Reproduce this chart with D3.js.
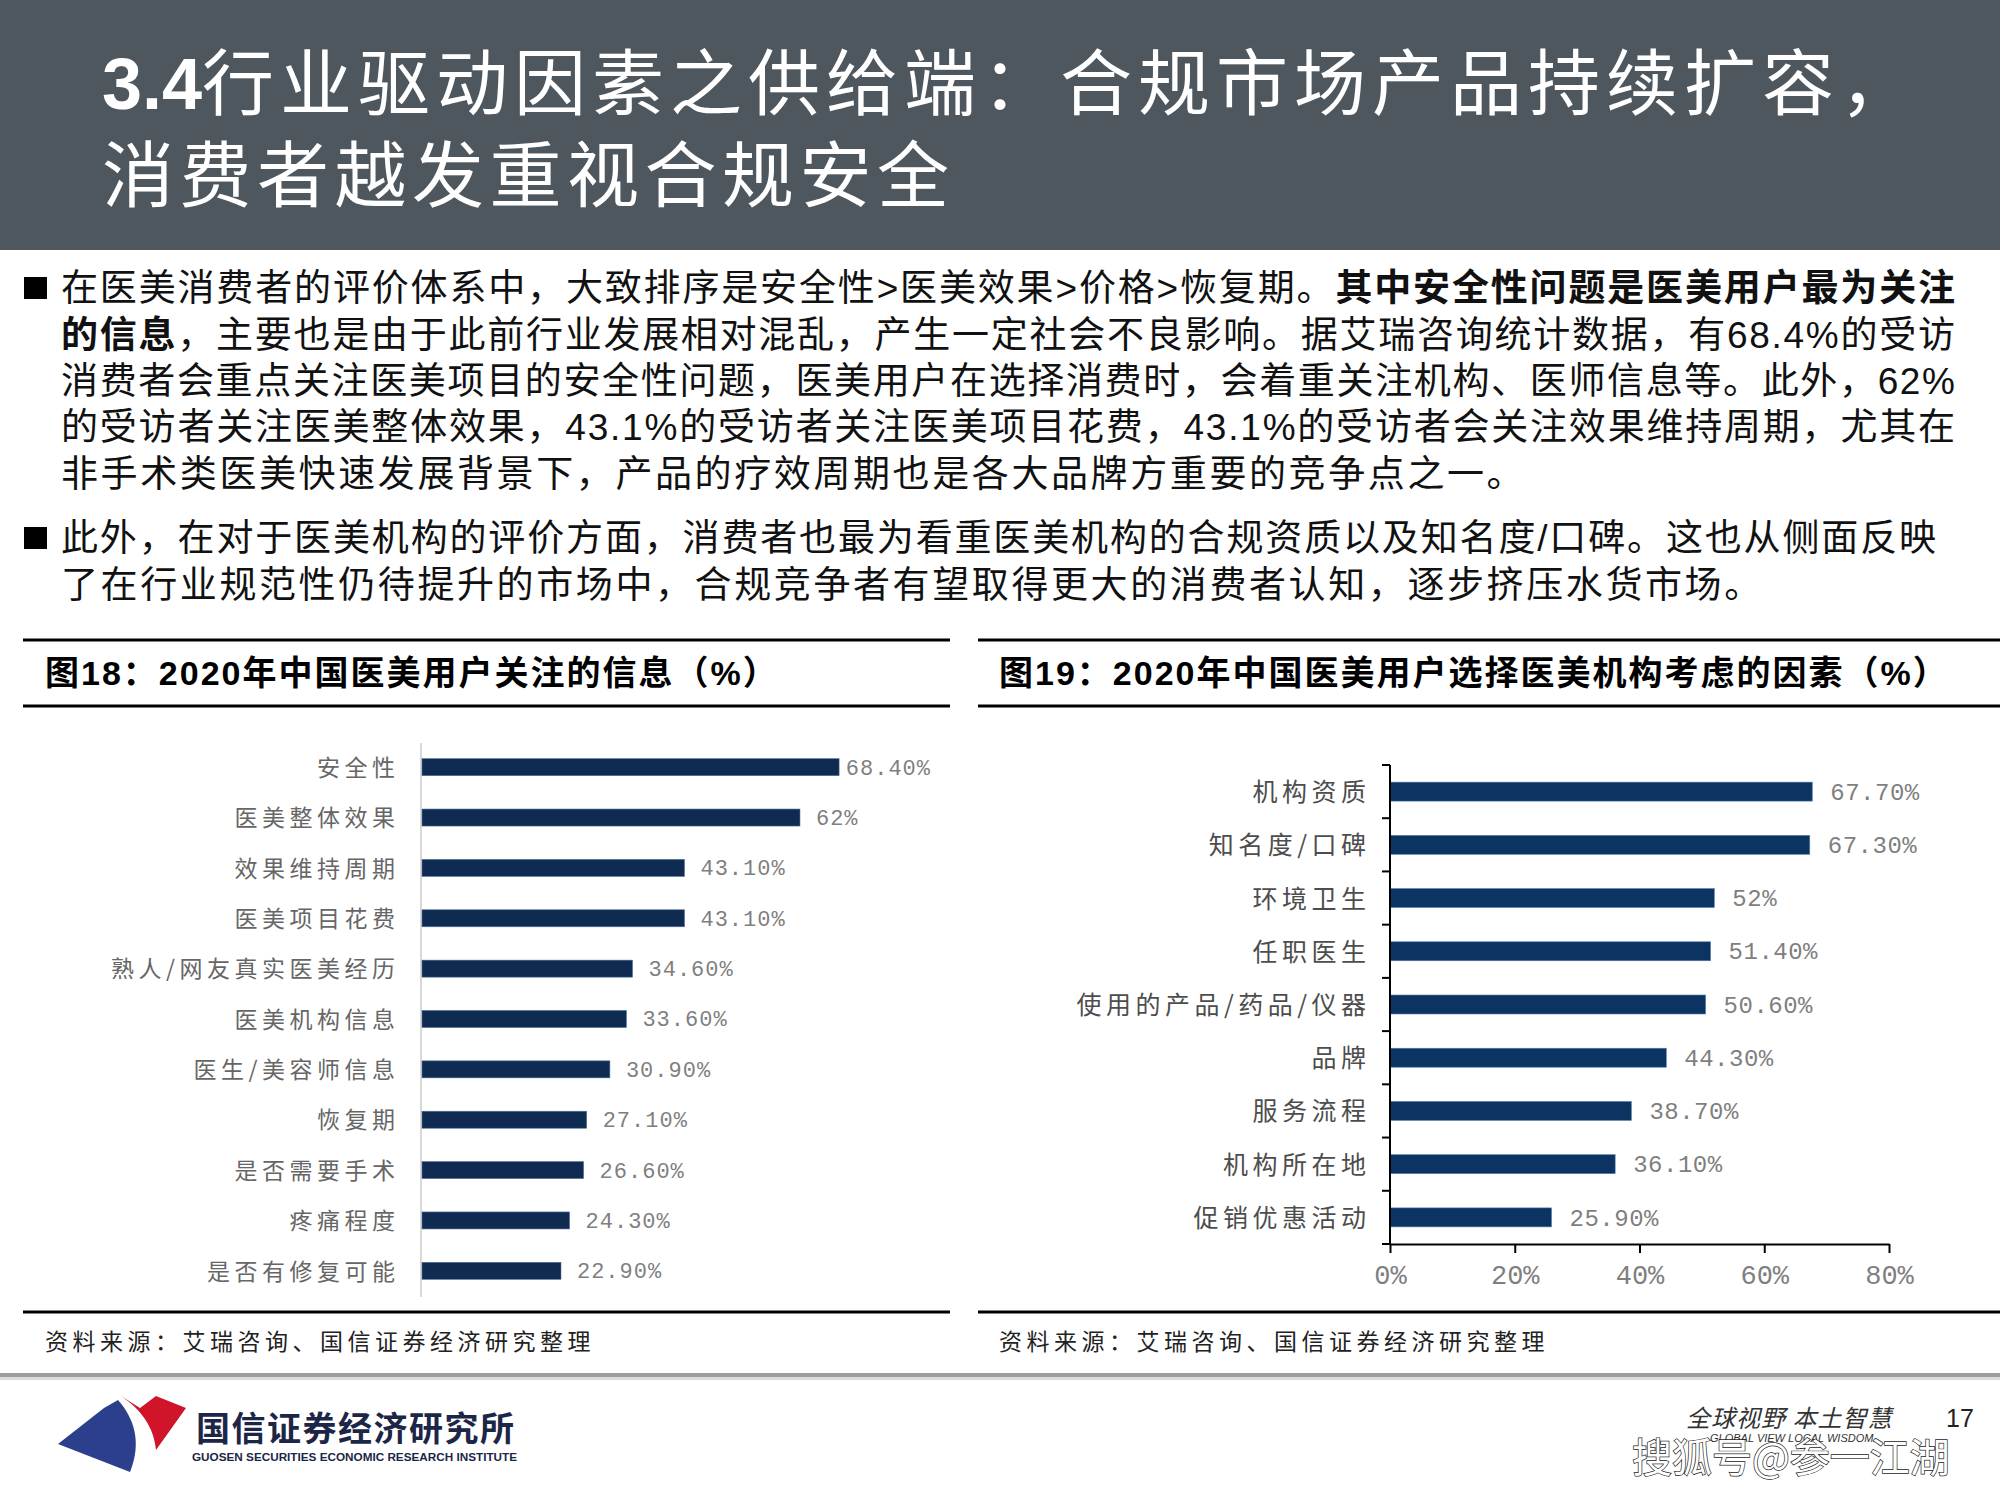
<!DOCTYPE html>
<html>
<head>
<meta charset="utf-8">
<script src="https://cdn.jsdelivr.net/npm/d3@7"></script>
<style>
body { margin: 0; background: #fff; }
svg { display: block; }
</style>
</head>
<body>
<div id="page"></div>
<script>
// 图18 data
var infoCategories = ["安全性", "医美整体效果", "效果维持周期", "医美项目花费", "熟人/网友真实医美经历", "医美机构信息",
  "医生/美容师信息", "恢复期", "是否需要手术", "疼痛程度", "是否有修复可能"];
var infoValues = [68.4, 62, 43.1, 43.1, 34.6, 33.6, 30.9, 27.1, 26.6, 24.3, 22.9];

// 图19 data
var clinicCategories = ["机构资质", "知名度/口碑", "环境卫生", "任职医生", "使用的产品/药品/仪器", "品牌", "服务流程",
  "机构所在地", "促销优惠活动"];
var clinicValues = [67.7, 67.3, 52, 51.4, 50.6, 44.3, 38.7, 36.1, 25.9];
var clinicTicks = [0, 20, 40, 60, 80];

var titleLines = ["行业驱动因素之供给端：合规市场产品持续扩容，", "消费者越发重视合规安全"];
var sourceText = "资料来源：艾瑞咨询、国信证券经济研究整理";

// paragraph lines, [text, bold]
var bodyLines = [
  [["在医美消费者的评价体系中，大致排序是安全性>医美效果>价格>恢复期。", 0], ["其中安全性问题是医美用户最为关注", 1]],
  [["的信息", 1], ["，主要也是由于此前行业发展相对混乱，产生一定社会不良影响。据艾瑞咨询统计数据，有68.4%的受访", 0]],
  [["消费者会重点关注医美项目的安全性问题，医美用户在选择消费时，会着重关注机构、医师信息等。此外，62%", 0]],
  [["的受访者关注医美整体效果，43.1%的受访者关注医美项目花费，43.1%的受访者会关注效果维持周期，尤其在", 0]],
  [["非手术类医美快速发展背景下，产品的疗效周期也是各大品牌方重要的竞争点之一。", 0]],
  [["此外，在对于医美机构的评价方面，消费者也最为看重医美机构的合规资质以及知名度/口碑。这也从侧面反映", 0]],
  [["了在行业规范性仍待提升的市场中，合规竞争者有望取得更大的消费者认知，逐步挤压水货市场。", 0]]
];

var CJK = "'Noto Sans CJK SC', sans-serif";
var MIX = "'Liberation Sans', 'Noto Sans CJK SC', sans-serif";
var MONO = "'Liberation Mono', monospace";

var svg = d3.select("#page").append("svg").attr("width", 2000).attr("height", 1500);

function pct(v) { return (v % 1 === 0 ? v : v.toFixed(2)) + "%"; }

drawHeader();
drawBody();
drawInfoChart();
drawClinicChart();
drawFooter();

function drawHeader() {
  svg.append("rect").attr("x", 0).attr("y", 0).attr("width", 2000).attr("height", 250).attr("fill", "#4f575e");
  var t1 = svg.append("text").attr("x", 102).attr("y", 109).attr("fill", "#fff").attr("font-size", 72);
  t1.append("tspan").attr("font-family", MIX).attr("font-weight", "bold").text("3.4");
  t1.append("tspan").attr("font-family", CJK).attr("letter-spacing", 6).text(titleLines[0]);
  svg.append("text").attr("x", 102).attr("y", 201).attr("fill", "#fff").attr("font-size", 72)
    .attr("font-family", CJK).attr("letter-spacing", 5.5).text(titleLines[1]);
}

function drawBody() {
  var base = [301, 348, 394, 440, 487, 551, 598];
  var ends = [1955, 1955, 1955, 1955, null, 1936, null];
  [277, 527].forEach(function(y) {
    svg.append("rect").attr("x", 24).attr("y", y).attr("width", 23).attr("height", 22).attr("fill", "#000");
  });
  bodyLines.forEach(function(line, i) {
    var t = svg.append("text").attr("x", 61).attr("y", base[i]).attr("font-size", 37)
      .attr("font-family", MIX).attr("fill", "#111");
    line.forEach(function(s) {
      t.append("tspan").attr("font-weight", s[1] ? "bold" : "normal").text(s[0]);
    });
    if (ends[i]) {
      var w = t.node().getComputedTextLength();
      var n = t.node().textContent.length;
      t.attr("letter-spacing", (ends[i] - 61 - w) / (n - 1));
    } else {
      t.attr("letter-spacing", 2.6);
    }
  });
}

function frame(x1, x2, title, tx) {
  svg.append("line").attr("x1", x1).attr("x2", x2).attr("y1", 640).attr("y2", 640).attr("stroke", "#000").attr("stroke-width", 3);
  svg.append("line").attr("x1", x1).attr("x2", x2).attr("y1", 706).attr("y2", 706).attr("stroke", "#000").attr("stroke-width", 3);
  svg.append("line").attr("x1", x1).attr("x2", x2).attr("y1", 1312).attr("y2", 1312).attr("stroke", "#000").attr("stroke-width", 3);
  svg.append("text").attr("x", tx).attr("y", 685).attr("font-size", 34).attr("font-weight", "bold")
    .attr("font-family", MIX).attr("letter-spacing", 2).attr("fill", "#000").text(title);
  svg.append("text").attr("x", tx).attr("y", 1350).attr("font-size", 23).attr("font-family", CJK)
    .attr("letter-spacing", 4.5).attr("fill", "#222").text(sourceText);
}

function drawInfoChart() {
  frame(23, 950, "图18：2020年中国医美用户关注的信息（%）", 45);
  var data = infoCategories.map(function(c, i) { return {c: c, v: infoValues[i]}; });
  var x = d3.scaleLinear().domain([0, 80]).range([421, 910]);
  var y = d3.scaleBand().domain(infoCategories).range([742, 1296]);
  var g = svg.append("g");

  g.append("line").attr("x1", x(0)).attr("x2", x(0)).attr("y1", 743).attr("y2", 1297)
    .attr("stroke", "#d9d9d9").attr("stroke-width", 2);

  g.selectAll(".bar").data(data).enter().append("rect").attr("class", "bar")
    .attr("x", x(0) + 1)
    .attr("y", function(d) { return y(d.c) + y.bandwidth() / 2 - 8.5; })
    .attr("width", function(d) { return x(d.v) - x(0) - 1; })
    .attr("height", 17)
    .attr("fill", "#0f2b52").attr("stroke", "#4f6f96").attr("stroke-width", 0.6);

  g.selectAll(".cat").data(data).enter().append("text").attr("class", "cat")
    .attr("x", 395 + 4.5)
    .attr("y", function(d) { return y(d.c) + y.bandwidth() / 2; })
    .attr("dy", "0.38em").attr("text-anchor", "end")
    .attr("font-family", CJK).attr("font-size", 23).attr("letter-spacing", 4.5).attr("fill", "#666")
    .text(function(d) { return d.c; });

  g.selectAll(".val").data(data).enter().append("text").attr("class", "val")
    .attr("y", function(d) { return y(d.c) + y.bandwidth() / 2; })
    .attr("dy", "0.34em")
    .attr("font-family", MONO).attr("font-size", 22).attr("letter-spacing", 1).attr("fill", "#7f7f7f")
    .text(function(d) { return pct(d.v); })
    .attr("x", function(d) {
      var w = this.getComputedTextLength();
      return Math.min(x(d.v) + 16, 931 - w);
    });
}

function drawClinicChart() {
  frame(978, 2000, "图19：2020年中国医美用户选择医美机构考虑的因素（%）", 999);
  var data = clinicCategories.map(function(c, i) { return {c: c, v: clinicValues[i]}; });
  var x = d3.scaleLinear().domain([0, 80]).range([1390, 1889]);
  var y = d3.scaleBand().domain(clinicCategories).range([765, 1244]);
  var g = svg.append("g");

  g.selectAll(".bar").data(data).enter().append("rect").attr("class", "bar")
    .attr("x", x(0))
    .attr("y", function(d) { return y(d.c) + y.bandwidth() / 2 - 9.5; })
    .attr("width", function(d) { return x(d.v) - x(0); })
    .attr("height", 19)
    .attr("fill", "#0c3463").attr("stroke", "#5b80ab").attr("stroke-width", 0.6);

  // category axis with ticks between bands
  var bounds = clinicCategories.map(function(c) { return y(c); }).concat([y.range()[1]]);
  g.append("line").attr("x1", x(0)).attr("x2", x(0)).attr("y1", y.range()[0]).attr("y2", y.range()[1])
    .attr("stroke", "#000").attr("stroke-width", 2);
  g.selectAll(".ytick").data(bounds).enter().append("line").attr("class", "ytick")
    .attr("x1", x(0) - 8).attr("x2", x(0)).attr("y1", function(d) { return d; }).attr("y2", function(d) { return d; })
    .attr("stroke", "#000").attr("stroke-width", 2);

  var ax = g.append("g").attr("transform", "translate(0," + y.range()[1] + ")")
    .call(d3.axisBottom(x).tickValues(clinicTicks).tickFormat(function(d) { return d + "%"; })
      .tickSize(9).tickSizeOuter(0).tickPadding(12));
  ax.select(".domain").attr("stroke", "#000").attr("stroke-width", 2);
  ax.selectAll(".tick line").attr("stroke", "#000").attr("stroke-width", 2);
  ax.selectAll(".tick text").attr("font-family", MONO).attr("font-size", 27).attr("fill", "#7f7f7f");

  g.selectAll(".cat").data(data).enter().append("text").attr("class", "cat")
    .attr("x", 1366 + 4.5)
    .attr("y", function(d) { return y(d.c) + y.bandwidth() / 2; })
    .attr("dy", "0.38em").attr("text-anchor", "end")
    .attr("font-family", CJK).attr("font-size", 25).attr("letter-spacing", 4.5).attr("fill", "#4d4d4d")
    .text(function(d) { return d.c; });

  g.selectAll(".val").data(data).enter().append("text").attr("class", "val")
    .attr("x", function(d) { return x(d.v) + 18; })
    .attr("y", function(d) { return y(d.c) + y.bandwidth() / 2; })
    .attr("dy", "0.34em")
    .attr("font-family", MONO).attr("font-size", 24).attr("letter-spacing", 0.5).attr("fill", "#7f7f7f")
    .text(function(d) { return pct(d.v); });
}

function drawFooter() {
  svg.append("rect").attr("x", 0).attr("y", 1373).attr("width", 2000).attr("height", 4).attr("fill", "#9c9c9c");
  svg.append("rect").attr("x", 0).attr("y", 1377).attr("width", 2000).attr("height", 3).attr("fill", "#dadada");

  // logo
  svg.append("path").attr("d", "M58,1444 L104,1408 L118,1400 C134,1418 142,1442 130,1472 Z").attr("fill", "#2b3f8c");
  svg.append("path").attr("d", "M121,1396 L140,1408 L156,1396 L186,1408 L156,1450 C154,1428 142,1410 121,1396 Z").attr("fill", "#d0152b");
  svg.append("text").attr("x", 196).attr("y", 1441).attr("font-family", CJK).attr("font-weight", "bold")
    .attr("font-size", 34).attr("letter-spacing", 1.5).attr("fill", "#1c2646").text("国信证券经济研究所");
  svg.append("text").attr("x", 192).attr("y", 1461).attr("font-family", MIX).attr("font-weight", "bold")
    .attr("font-size", 10).attr("textLength", 325).attr("lengthAdjust", "spacingAndGlyphs").attr("fill", "#1c2646")
    .text("GUOSEN SECURITIES ECONOMIC RESEARCH INSTITUTE");

  svg.append("text").attr("x", 1686).attr("y", 1427).attr("font-family", CJK).attr("font-style", "italic")
    .attr("font-size", 24).attr("letter-spacing", 1).attr("fill", "#333").text("全球视野 本土智慧");
  svg.append("text").attr("x", 1946).attr("y", 1427).attr("font-family", MIX)
    .attr("font-size", 25).attr("fill", "#222").text("17");
  svg.append("text").attr("x", 1710).attr("y", 1442).attr("font-family", MIX).attr("font-style", "italic")
    .attr("font-size", 11).attr("fill", "#333").text("GLOBAL VIEW          LOCAL WISDOM");

  // watermark
  svg.append("text").attr("x", 1632).attr("y", 1472).attr("font-family", CJK).attr("font-size", 40)
    .attr("fill", "#fff").attr("stroke", "#222").attr("stroke-width", 1.4).attr("paint-order", "stroke")
    .text("搜狐号@参一江湖");
}
</script>
</body>
</html>
